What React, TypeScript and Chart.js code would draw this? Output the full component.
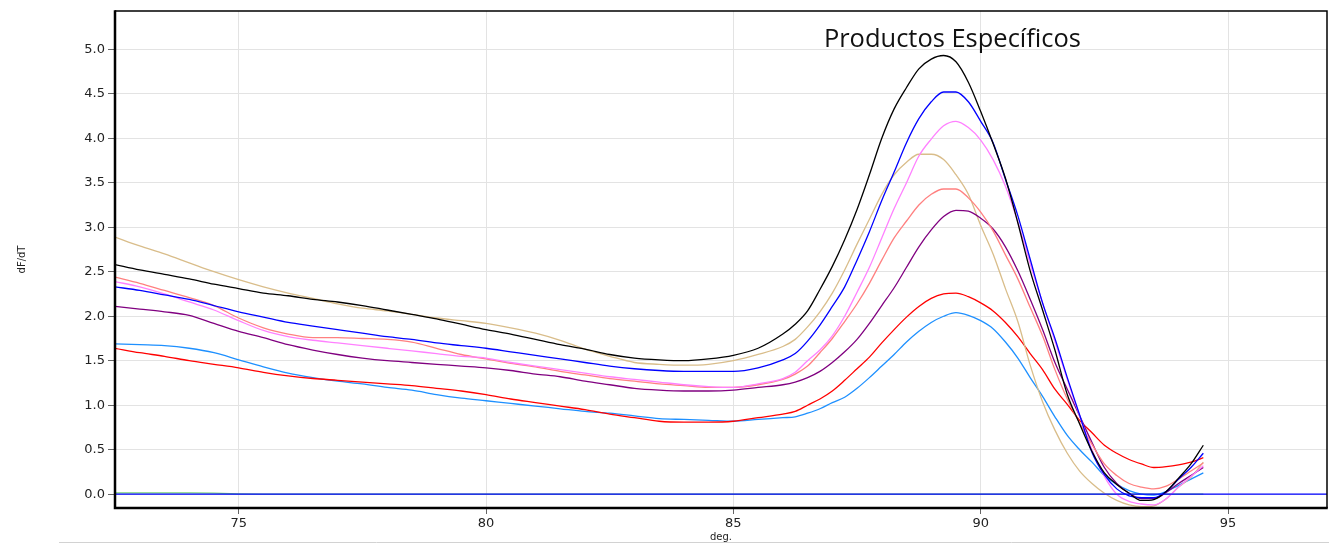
import { useEffect, useRef } from "react";
import { Chart, registerables } from "chart.js";

Chart.register(...registerables);

const TEMPS = [
  72.5, 73, 73.5, 74, 74.5, 75, 75.5, 76, 76.5, 77, 77.5, 78, 78.5, 79, 79.5, 80, 80.5, 81, 81.5, 82, 82.5, 83, 83.5, 84, 84.5, 85, 85.5, 86,
  86.25, 86.5, 86.75, 87, 87.25, 87.5, 87.75, 88, 88.25, 88.5, 88.75, 89, 89.25, 89.5, 89.75, 90, 90.25, 90.5, 90.75, 91, 91.25, 91.5, 91.75,
  92, 92.25, 92.5, 92.75, 93, 93.25, 93.5, 93.75, 94, 94.25, 94.5,
];

const BLACK = [
  2.58, 2.52, 2.47, 2.42, 2.36, 2.31, 2.26, 2.23, 2.19, 2.16, 2.12, 2.07, 2.02, 1.97, 1.91, 1.85, 1.8, 1.74, 1.68, 1.63, 1.57, 1.53, 1.51, 1.5, 1.52, 1.56, 1.64, 1.8,
  1.91, 2.06, 2.3, 2.56, 2.86, 3.2, 3.59, 4.0, 4.33, 4.57, 4.78, 4.89, 4.93, 4.86, 4.63, 4.3, 3.94, 3.55, 3.05, 2.51, 2.07, 1.62, 1.12,
  0.79, 0.48, 0.24, 0.11, 0.01, -0.07, -0.06, 0.03, 0.18, 0.34, 0.55,
];

const BLUE = [
  2.33, 2.29, 2.24, 2.19, 2.12, 2.05, 1.99, 1.93, 1.89, 1.85, 1.81, 1.77, 1.74, 1.7, 1.67, 1.64, 1.6, 1.56, 1.52, 1.48, 1.44, 1.41, 1.39, 1.38, 1.38, 1.38, 1.42, 1.51,
  1.58, 1.72, 1.9, 2.11, 2.33, 2.63, 2.95, 3.3, 3.62, 3.95, 4.22, 4.41, 4.52, 4.52, 4.41, 4.19, 3.95, 3.54, 3.13, 2.64, 2.15, 1.75, 1.31,
  0.89, 0.47, 0.22, 0.06, -0.02, -0.04, -0.04, 0.03, 0.17, 0.3, 0.46,
];

const VIOLET = [
  2.39, 2.33, 2.25, 2.16, 2.07, 1.95, 1.84, 1.77, 1.73, 1.7, 1.67, 1.64, 1.61, 1.58, 1.55, 1.53, 1.48, 1.44, 1.4, 1.36, 1.32, 1.29, 1.26, 1.23, 1.21, 1.2, 1.24, 1.3,
  1.37, 1.5, 1.62, 1.78, 2.0, 2.27, 2.55, 2.88, 3.21, 3.5, 3.8, 3.99, 4.14, 4.19, 4.12, 3.98, 3.76, 3.46, 3.06, 2.59, 2.15, 1.72, 1.29,
  0.88, 0.5, 0.2, 0.0, -0.08, -0.11, -0.12, -0.05, 0.08, 0.2, 0.32,
];

const SALMON = [
  2.44, 2.37, 2.29, 2.21, 2.12, 1.98, 1.87, 1.8, 1.76, 1.76, 1.75, 1.74, 1.71, 1.64, 1.57, 1.52, 1.47, 1.43, 1.38, 1.34, 1.3, 1.27, 1.24, 1.22, 1.2, 1.2, 1.23, 1.29,
  1.35, 1.44, 1.59, 1.75, 1.94, 2.14, 2.37, 2.63, 2.88, 3.07, 3.25, 3.37, 3.43, 3.43, 3.33, 3.17, 2.96, 2.69, 2.42, 2.1, 1.78, 1.4, 1.07,
  0.8, 0.56, 0.34, 0.21, 0.12, 0.08, 0.06, 0.09, 0.17, 0.26, 0.35,
];

const PURPLE = [
  2.11, 2.08, 2.05, 2.01, 1.92, 1.83, 1.76, 1.68, 1.62, 1.57, 1.53, 1.5, 1.48, 1.46, 1.44, 1.42, 1.39, 1.35, 1.32, 1.27, 1.23, 1.19, 1.17, 1.16, 1.16, 1.17, 1.2, 1.23,
  1.26, 1.31, 1.38, 1.48, 1.6, 1.74, 1.92, 2.12, 2.32, 2.55, 2.78, 2.97, 3.12, 3.19, 3.18, 3.1, 2.98, 2.78, 2.51, 2.19, 1.85, 1.48, 1.18,
  0.88, 0.58, 0.3, 0.12, 0.01, -0.05, -0.05, 0.02, 0.12, 0.21, 0.3,
];

const TAN = [
  2.89, 2.79, 2.7, 2.6, 2.5, 2.41, 2.33, 2.26, 2.2, 2.14, 2.09, 2.06, 2.02, 1.98, 1.95, 1.92, 1.87, 1.81, 1.73, 1.63, 1.55, 1.48, 1.46, 1.45, 1.46, 1.5, 1.57, 1.66,
  1.74, 1.88, 2.05, 2.26, 2.52, 2.81, 3.09, 3.37, 3.59, 3.73, 3.82, 3.82, 3.76, 3.59, 3.37, 3.02, 2.7, 2.31, 1.94, 1.45, 1.04, 0.72, 0.46,
  0.26, 0.12, 0.01, -0.07, -0.12, -0.14, -0.13, -0.05, 0.08, 0.19, 0.36,
];

const RED = [
  1.64, 1.59, 1.55, 1.5, 1.46, 1.42, 1.37, 1.33, 1.3, 1.28, 1.26, 1.24, 1.22, 1.19, 1.16, 1.12, 1.07, 1.03, 0.99, 0.95, 0.9, 0.86, 0.82, 0.81, 0.81, 0.82, 0.86, 0.9,
  0.93, 1.0, 1.07, 1.16, 1.28, 1.41, 1.54, 1.7, 1.85, 1.99, 2.11, 2.2, 2.25, 2.26, 2.22, 2.15, 2.06, 1.93, 1.77, 1.58, 1.4, 1.18, 1.01,
  0.83, 0.69, 0.55, 0.46, 0.39, 0.34, 0.3, 0.31, 0.33, 0.36, 0.41,
];

const DODGER = [
  1.69, 1.68, 1.67, 1.64, 1.59, 1.51, 1.43, 1.36, 1.31, 1.27, 1.24, 1.2, 1.17, 1.12, 1.08, 1.05, 1.02, 0.99, 0.96, 0.93, 0.91, 0.88, 0.85, 0.84, 0.83, 0.82, 0.84, 0.86,
  0.87, 0.91, 0.96, 1.03, 1.09, 1.19, 1.31, 1.44, 1.57, 1.71, 1.83, 1.93, 2.0, 2.04, 2.01, 1.95, 1.86, 1.71, 1.53, 1.31, 1.1, 0.87, 0.66,
  0.5, 0.36, 0.21, 0.11, 0.04, 0.0, -0.01, 0.03, 0.1, 0.17, 0.24,
];

const GREEN_X = [72.5, 73, 73.5, 74, 74.5, 75, 75.5, 94.5];
const GREEN_Y = [0.015, 0.015, 0.015, 0.015, 0.012, 0.003, 0, 0];

const BASE_X = [72.5, 97];
const BASE_Y = [0, 0];

const X_TICKS = [75, 80, 85, 90, 95];
const Y_TICKS = [0, 0.5, 1.0, 1.5, 2.0, 2.5, 3.0, 3.5, 4.0, 4.5, 5.0];

const TITLE = "Productos Específicos";
const TITLE_X = 86.83;
const TITLE_Y = 5.02;

const SERIES: { name: string; values: number[]; color: string }[] = [
  { name: "black", values: BLACK, color: "#000000" },
  { name: "blue", values: BLUE, color: "#0000ff" },
  { name: "violet", values: VIOLET, color: "#ff80ff" },
  { name: "salmon", values: SALMON, color: "#ff8080" },
  { name: "purple", values: PURPLE, color: "#800080" },
  { name: "tan", values: TAN, color: "#d9bd8a" },
  { name: "red", values: RED, color: "#ff0000" },
  { name: "dodger", values: DODGER, color: "#1e90ff" },
];

const framePlugin = {
  id: "frame",
  afterDraw(chart: any) {
    const { ctx, chartArea } = chart;
    const { left, top, right, bottom } = chartArea;
    ctx.save();
    ctx.strokeStyle = "#000";
    ctx.lineWidth = 1.5;
    ctx.beginPath();
    ctx.moveTo(left, top);
    ctx.lineTo(right, top);
    ctx.lineTo(right, bottom);
    ctx.stroke();
    ctx.lineWidth = 2.5;
    ctx.beginPath();
    ctx.moveTo(left, top - 0.75);
    ctx.lineTo(left, bottom);
    ctx.lineTo(right + 0.75, bottom);
    ctx.stroke();

    const xs = chart.scales.x;
    const ys = chart.scales.y;
    ctx.font = '26px "Open Sans"';
    ctx.fillStyle = "#111";
    ctx.textAlign = "left";
    ctx.textBaseline = "alphabetic";
    ctx.fillText(TITLE, xs.getPixelForValue(TITLE_X), ys.getPixelForValue(TITLE_Y), 257);

    ctx.strokeStyle = "#d2d2d2";
    ctx.lineWidth = 1;
    ctx.beginPath();
    ctx.moveTo(59, 542.5);
    ctx.lineTo(chart.width, 542.5);
    ctx.stroke();
    ctx.restore();
  },
};

export default function App() {
  const ref = useRef<HTMLCanvasElement>(null);

  useEffect(() => {
    const canvas = ref.current;
    if (!canvas) return;
    const pts = (xs: number[], ys: number[]) => ys.map((y, i) => ({ x: xs[i], y }));
    const datasets: any[] = [
      {
        label: "baseline",
        data: pts(BASE_X, BASE_Y),
        borderColor: "#0000ff",
        borderWidth: 1.3,
        pointRadius: 0,
      },
      ...SERIES.map((s) => ({
        label: s.name,
        data: pts(TEMPS, s.values),
        borderColor: s.color,
        borderWidth: 1.3,
        pointRadius: 0,
        cubicInterpolationMode: "monotone",
      })),
      {
        label: "green",
        data: pts(GREEN_X, GREEN_Y),
        borderColor: "#77d477",
        borderWidth: 1.3,
        pointRadius: 0,
      },
    ];

    const tickFont = { family: '"DejaVu Sans", sans-serif', size: 13 };
    const chart = new Chart(canvas, {
      type: "line",
      data: { datasets },
      options: {
        responsive: false,
        maintainAspectRatio: false,
        animation: false,
        layout: { padding: { top: 11, right: 2, left: 0, bottom: 0 } },
        plugins: {
          legend: { display: false },
          tooltip: { enabled: false },
          title: { display: false },
        },
        elements: { point: { radius: 0 } },
        scales: {
          x: {
            type: "linear",
            min: 72.5,
            max: 97,
            afterBuildTicks: (s: any) => {
              s.ticks = X_TICKS.map((value) => ({ value }));
            },
            afterFit: (s: any) => {
              s.height = 36;
            },
            grid: { color: "#e3e3e3", tickColor: "#666", tickLength: 6, lineWidth: 1 },
            border: { display: false },
            ticks: {
              font: tickFont,
              color: "#222",
              padding: 2,
              maxRotation: 0,
              autoSkip: false,
              callback: (v: any) => String(v),
            },
            title: {
              display: true,
              text: "deg.",
              font: { family: '"DejaVu Sans", sans-serif', size: 10 },
              color: "#222",
              padding: { top: 0, bottom: 1 },
            },
          },
          y: {
            type: "linear",
            min: -0.155,
            max: 5.43,
            afterBuildTicks: (s: any) => {
              s.ticks = Y_TICKS.map((value) => ({ value }));
            },
            afterFit: (s: any) => {
              s.width = 115;
            },
            grid: { color: "#e3e3e3", tickColor: "#666", tickLength: 7, lineWidth: 1 },
            border: { display: false },
            ticks: {
              font: tickFont,
              color: "#222",
              padding: 3,
              autoSkip: false,
              callback: (v: any) => Number(v).toFixed(1),
            },
            title: {
              display: true,
              text: "dF/dT",
              font: { family: '"DejaVu Sans", sans-serif', size: 10 },
              color: "#222",
              padding: { top: 16, bottom: 0 },
            },
          },
        },
      } as any,
      plugins: [framePlugin],
    });
    return () => chart.destroy();
  }, []);

  return (
    <div style={{ position: "fixed", left: 0, top: 0, width: 1329, height: 544, background: "#fff" }}>
      <canvas ref={ref} width={1329} height={544} style={{ display: "block" }} />
    </div>
  );
}
